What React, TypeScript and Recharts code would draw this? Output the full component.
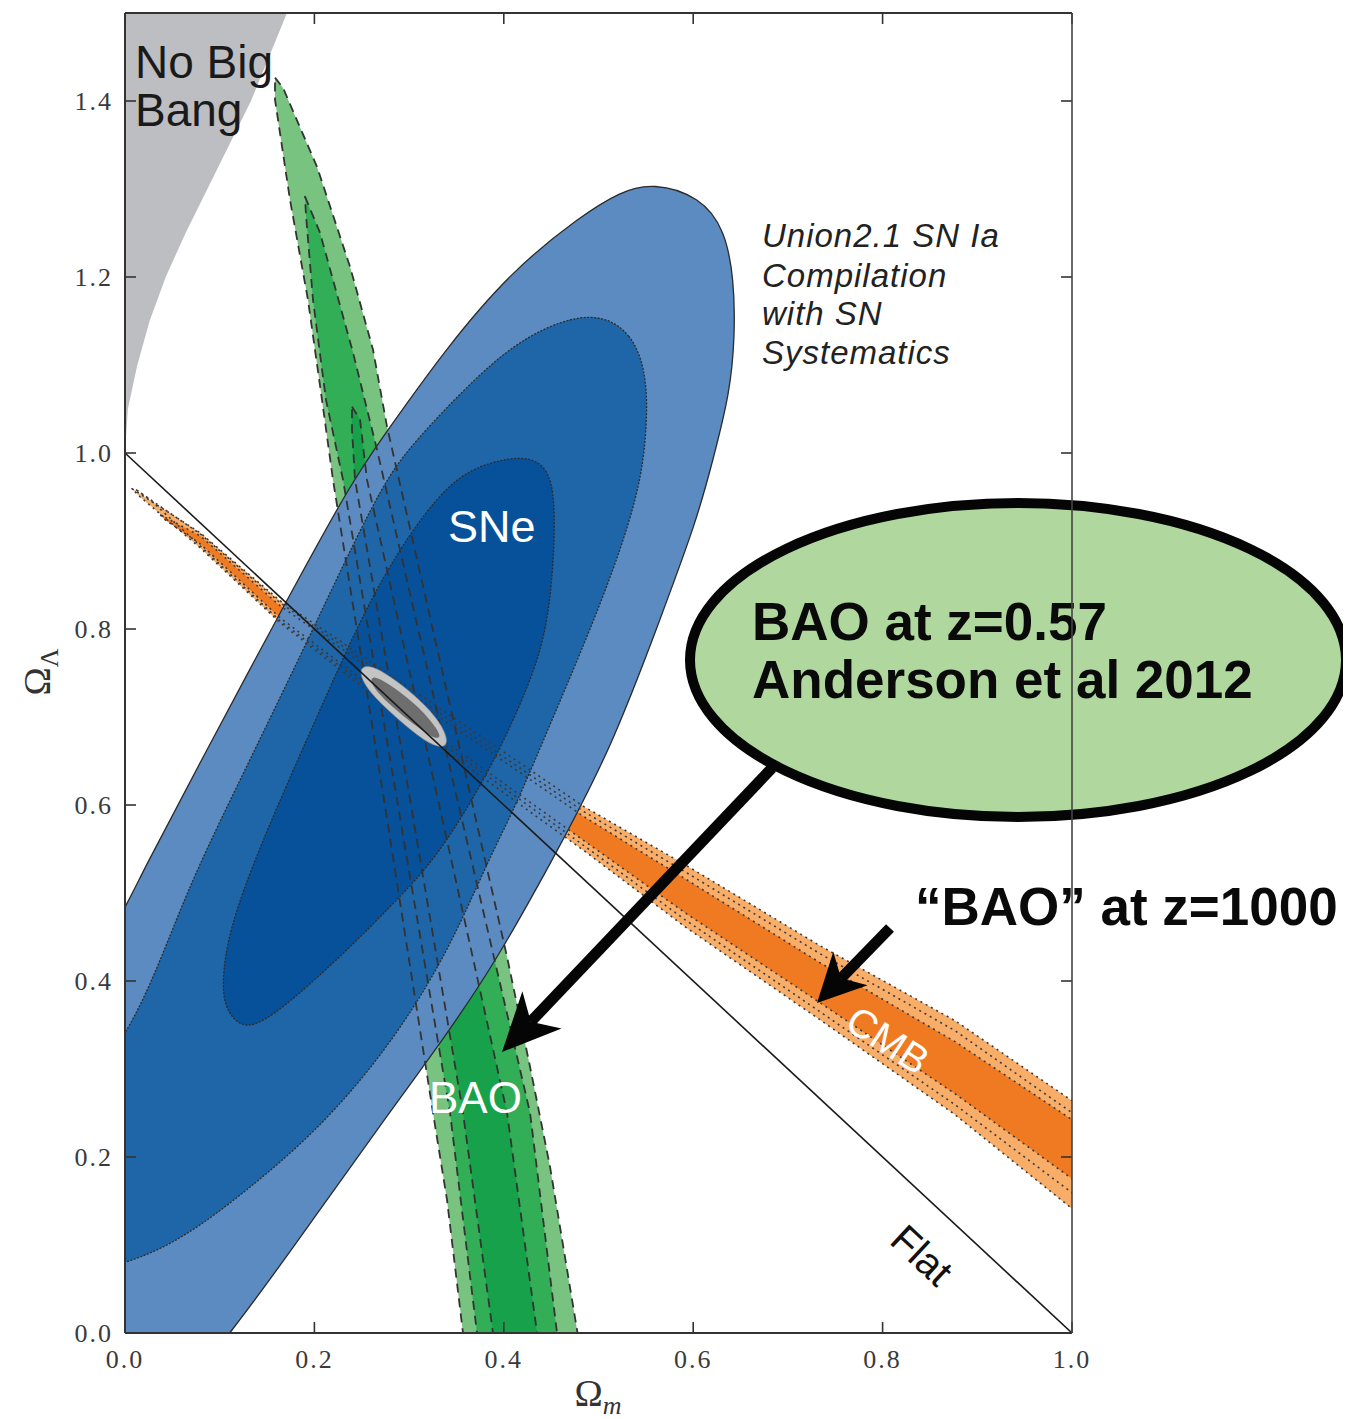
import { Scatter, ScatterChart, XAxis, YAxis } from 'recharts'

// Omega_m / Omega_Lambda plane: SN Ia, BAO and CMB confidence regions

type Pt = { x: number; y: number }
const pts = (rows: number[][]): Pt[] => rows.map(([x, y]) => ({ x, y }))

const X_TICKS = [0, 0.2, 0.4, 0.6, 0.8, 1.0]
const Y_TICKS = [0, 0.2, 0.4, 0.6, 0.8, 1.0, 1.2, 1.4]

const NO_BIG_BANG = [
  [0, 1.0], [0.003, 1.05], [0.013, 1.1], [0.026, 1.15], [0.043, 1.2], [0.064, 1.25], [0.087, 1.3],
  [0.11, 1.35], [0.133, 1.4], [0.152, 1.45], [0.171, 1.5], [0.19, 1.55], [-0.05, 1.55], [-0.05, 1.0],
]

const SNE_OUTER = [
  [0.5576, 1.3072], [0.6072, 1.2913], [0.6336, 1.2538], [0.6431, 1.1969], [0.6441, 1.1345],
  [0.6389, 1.0686], [0.6209, 0.9924], [0.604, 0.9242], [0.5649, 0.8106], [0.5132, 0.6629],
  [0.4488, 0.5322], [0.3907, 0.4208], [0.3411, 0.3413], [0.2714, 0.239], [0.2006, 0.1322],
  [0.113, 0.0], [0.0264, -0.11], [-0.0686, -0.167], [-0.1426, -0.098], [-0.1531, 0.095],
  [-0.0898, 0.311], [0, 0.4811], [0.0158, 0.5186], [0.0792, 0.6482], [0.1711, 0.8334],
  [0.2408, 0.9697], [0.2703, 1.0152], [0.34, 1.1209], [0.4097, 1.2084], [0.4805, 1.2686], [0.5227, 1.297],
]

const SNE_MID = [
  [0.4942, 1.1629], [0.5364, 1.1367], [0.5512, 1.0867], [0.5512, 1.0299], [0.5438, 0.9549],
  [0.5048, 0.8333], [0.4541, 0.7049], [0.4097, 0.5913], [0.3875, 0.547], [0.3379, 0.4242],
  [0.2714, 0.314], [0.2006, 0.2276], [0.1299, 0.1628], [0.0602, 0.106], [0, 0.0776],
  [-0.0581, 0.0663], [-0.1003, 0.106], [-0.1003, 0.1969], [-0.0581, 0.2651], [0, 0.3299],
  [0.0422, 0.4356], [0.0718, 0.5186], [0.132, 0.6515], [0.1985, 0.7992], [0.2693, 0.9617],
  [0.3041, 1.0117], [0.3749, 1.0913], [0.4277, 1.1367],
]

const SNE_INNER = [
  [0.4245, 0.997], [0.4467, 0.9833], [0.4541, 0.947], [0.453, 0.8788], [0.4456, 0.7992],
  [0.4277, 0.739], [0.396, 0.6629], [0.3611, 0.5947], [0.3221, 0.5311], [0.2788, 0.4833],
  [0.2355, 0.4356], [0.1658, 0.3674], [0.1267, 0.3413], [0.1056, 0.3674], [0.1024, 0.3981],
  [0.1088, 0.4549], [0.1404, 0.5492], [0.2027, 0.7004], [0.2482, 0.8106], [0.2904, 0.8936],
  [0.3432, 0.9697], [0.3854, 0.9902],
]

const BAO_OUTER = [
  [0.1584, 1.4265], [0.1668, 1.4151], [0.2027, 1.3254], [0.2376, 1.2117], [0.2619, 1.1174],
  [0.2767, 1.0299], [0.3442, 0.7083], [0.4034, 0.4276], [0.4277, 0.3026], [0.4488, 0.189],
  [0.4773, 0.0038], [0.4857, -0.053], [0.3643, -0.053], [0.3569, 0.0], [0.34, 0.1515],
  [0.3252, 0.2504], [0.2735, 0.6061], [0.2196, 0.9697], [0.208, 1.0606], [0.1932, 1.1742],
  [0.1742, 1.2879], [0.1584, 1.4015],
]

const BAO_MID = [
  [0.1901, 1.2913], [0.2059, 1.2504], [0.2408, 1.114], [0.2661, 1.0038], [0.3485, 0.6174],
  [0.4277, 0.2504], [0.4562, 0.0], [0.4625, -0.053], [0.3759, -0.053], [0.3717, 0.0],
  [0.3432, 0.2504], [0.2872, 0.6061], [0.2302, 0.9697], [0.2122, 1.0606], [0.1985, 1.1742], [0.1911, 1.2708],
]

const BAO_INNER = [
  [0.2397, 1.0527], [0.2482, 1.0379], [0.2555, 0.9697], [0.3305, 0.6061], [0.4034, 0.2504],
  [0.4351, 0.0], [0.4393, -0.053], [0.3928, -0.053], [0.3886, 0.0], [0.3569, 0.2504],
  [0.301, 0.6061], [0.2429, 0.9697], [0.2397, 1.0265],
]

const CMB_OUTER = [
  [0.0074, 0.9594], [0.0792, 0.9094], [0.1637, 0.8322], [0.3221, 0.7174], [0.4847, 0.5981],
  [0.5913, 0.5322], [0.7339, 0.4401], [0.8765, 0.3549], [1.0, 0.264], [1.0507, 0.2276],
  [1.0507, 0.1004], [1.0, 0.1413], [0.8765, 0.2481], [0.7339, 0.356], [0.5913, 0.4617],
  [0.4847, 0.5481], [0.3221, 0.6742], [0.1637, 0.8072], [0.0792, 0.8924], [0.0158, 0.9503],
]

const CMB_MID = [
  [0.0116, 0.9583], [0.0792, 0.9083], [0.1637, 0.8299], [0.3221, 0.7117], [0.4847, 0.5924],
  [0.5913, 0.5242], [0.7339, 0.431], [0.8765, 0.3435], [1.0, 0.2503], [1.0507, 0.2083],
  [1.0507, 0.1174], [1.0, 0.1594], [0.8765, 0.2594], [0.7339, 0.3651], [0.5913, 0.4697],
  [0.4847, 0.5538], [0.3221, 0.6799], [0.1637, 0.8094], [0.0792, 0.8947], [0.0264, 0.9469],
]

const CMB_INNER = [
  [0.037, 0.9299], [0.0792, 0.906], [0.1637, 0.8265], [0.3221, 0.7072], [0.4847, 0.5867],
  [0.5913, 0.5163], [0.7339, 0.4208], [0.8765, 0.3311], [1.0, 0.2424], [1.0507, 0.1992],
  [1.0507, 0.131], [1.0, 0.1753], [0.8765, 0.2719], [0.7339, 0.3753], [0.5913, 0.4776],
  [0.4847, 0.5594], [0.3221, 0.6844], [0.1637, 0.8128], [0.0792, 0.8969], [0.0422, 0.9242],
]

const JOINT_OUTER = [
  [0.2503, 0.7583], [0.264, 0.7572], [0.2851, 0.7424], [0.3115, 0.7197], [0.3326, 0.6947],
  [0.3411, 0.6742], [0.3379, 0.6651], [0.3242, 0.6674], [0.301, 0.6856], [0.2746, 0.7106],
  [0.2545, 0.7333], [0.2482, 0.7492],
]

const JOINT_INNER = [
  [0.2608, 0.7492], [0.2851, 0.7333], [0.3115, 0.7106], [0.3305, 0.6856], [0.3337, 0.6754],
  [0.3242, 0.6765], [0.301, 0.6947], [0.2756, 0.7174], [0.2587, 0.7379],
]

const FLAT = [
  [0, 1],
  [1, 0],
]

const W = 1343
const H = 1411
const PLOT = { left: 117, right: 1064, top: 5, bottom: 1325 }
const AXIS = '#333'
const SERIF = '"Liberation Serif", "Times New Roman", serif'
const SANS = '"Liberation Sans", Arial, sans-serif'

const hidden = () => <g />

type RegionStyle = {
  fill?: string
  stroke?: string
  strokeWidth?: number
  dash?: string
  curve?: 'basisClosed' | 'linearClosed' | 'linear'
}

function region(key: string, rows: number[][], s: RegionStyle) {
  return (
    <Scatter
      key={key}
      data={pts(rows)}
      isAnimationActive={false}
      zIndex={300}
      shape={hidden}
      lineJointType={s.curve ?? 'linearClosed'}
      line={{
        fill: s.fill ?? 'none',
        stroke: s.stroke ?? 'none',
        strokeWidth: s.strokeWidth ?? 1,
        strokeDasharray: s.dash,
        strokeLinejoin: 'round',
      }}
    />
  )
}

function XTick(props: any) {
  const { x, payload } = props
  return (
    <g>
      <line x1={x} x2={x} y1={PLOT.bottom} y2={PLOT.bottom - 11} stroke={AXIS} strokeWidth={1.6} />
      <line x1={x} x2={x} y1={PLOT.top} y2={PLOT.top + 11} stroke={AXIS} strokeWidth={1.6} />
      <text x={x} y={PLOT.bottom + 35} textAnchor="middle" fontFamily={SERIF} fontSize={26} letterSpacing={2} fill="#3a3a3a">
        {Number(payload.value).toFixed(1)}
      </text>
    </g>
  )
}

function YTick(props: any) {
  const { y, payload } = props
  return (
    <g>
      <line x1={PLOT.left} x2={PLOT.left + 11} y1={y} y2={y} stroke={AXIS} strokeWidth={1.6} />
      <line x1={PLOT.right} x2={PLOT.right - 11} y1={y} y2={y} stroke={AXIS} strokeWidth={1.6} />
      <text x={PLOT.left - 12} y={y + 9} textAnchor="end" fontFamily={SERIF} fontSize={26} letterSpacing={2} fill="#3a3a3a">
        {Number(payload.value).toFixed(1)}
      </text>
    </g>
  )
}

function Arrow({ x1, y1, x2, y2, head, half, width }: { x1: number; y1: number; x2: number; y2: number; head: number; half: number; width: number }) {
  const len = Math.hypot(x2 - x1, y2 - y1)
  const ux = (x2 - x1) / len
  const uy = (y2 - y1) / len
  const bx = x2 - ux * head
  const by = y2 - uy * head
  const nx = x2 - ux * head * 0.72
  const ny = y2 - uy * head * 0.72
  const p = `${x2},${y2} ${bx - uy * half},${by + ux * half} ${nx},${ny} ${bx + uy * half},${by - ux * half}`
  return (
    <g>
      <line x1={x1} y1={y1} x2={nx} y2={ny} stroke="#050505" strokeWidth={width} />
      <polygon points={p} fill="#050505" />
    </g>
  )
}

// text, callouts and the top/right frame sit above the plotted regions
function Overlay() {
  return (
    <svg width={W} height={H} style={{ position: 'absolute', left: 0, top: 0, pointerEvents: 'none' }}>
      <text fontFamily={SANS} fontSize={46} fill="#1a1a1a">
        <tspan x={127} y={70}>No Big</tspan>
        <tspan x={127} y={118}>Bang</tspan>
      </text>
      <text fontFamily={SANS} fontSize={33} fontStyle="italic" letterSpacing={1} fill="#222">
        <tspan x={754} y={239}>Union2.1 SN Ia</tspan>
        <tspan x={754} y={279}>Compilation</tspan>
        <tspan x={754} y={317}>with SN</tspan>
        <tspan x={754} y={356}>Systematics</tspan>
      </text>
      <text x={440} y={534} fontFamily={SANS} fontSize={45} fill="#fff">SNe</text>
      <text x={421} y={1105} fontFamily={SANS} fontSize={44} fill="#fff">BAO</text>
      <text x={880} y={1032} fontFamily={SANS} fontSize={40} fill="#fff" textAnchor="middle" dominantBaseline="central" transform="rotate(33 880 1032)">
        CMB
      </text>
      <text x={914} y={1247} fontFamily={SANS} fontSize={40} fill="#111" textAnchor="middle" dominantBaseline="central" transform="rotate(43 914 1247)">
        Flat
      </text>

      <text x={590} y={1398} fontFamily={SERIF} fontSize={38} fill="#333" textAnchor="middle">
        Ω<tspan dy={8} fontSize={26} fontStyle="italic">m</tspan>
      </text>
      <text x={42} y={664} fontFamily={SERIF} fontSize={38} fill="#333" textAnchor="middle" transform="rotate(-90 42 664)">
        Ω<tspan dy={8} fontSize={26}>Λ</tspan>
      </text>

      <ellipse cx={1010} cy={652} rx={328} ry={157} fill="#b0d89e" stroke="#050505" strokeWidth={10} />
      <text fontFamily={SANS} fontWeight="bold" fontSize={53} fill="#0a0a0a">
        <tspan x={744} y={632}>BAO at z=0.57</tspan>
        <tspan x={744} y={690}>Anderson et al 2012</tspan>
      </text>
      <Arrow x1={764} y1={760} x2={494} y2={1044} head={58} half={27} width={11} />
      <text x={907} y={917} fontFamily={SANS} fontWeight="bold" fontSize={53} fill="#0a0a0a">
        “BAO” at z=1000
      </text>
      <Arrow x1={882} y1={920} x2={809} y2={995} head={48} half={24} width={11} />

      <line x1={PLOT.left} x2={PLOT.right} y1={PLOT.top} y2={PLOT.top} stroke={AXIS} strokeWidth={2} />
      <line x1={PLOT.right} x2={PLOT.right} y1={PLOT.top} y2={PLOT.bottom} stroke="#444" strokeWidth={1.6} />
    </svg>
  )
}

export default function App() {
  return (
    <div style={{ position: 'relative', width: W, height: H, background: '#fff' }}>
      <ScatterChart width={W} height={H} margin={{ top: 5, right: 279, bottom: 26, left: 37 }}>
        {region('nbb', NO_BIG_BANG, { fill: '#bdbec1' })}

        {region('bao-1', BAO_OUTER, { fill: '#78c37f' })}
        {region('bao-2', BAO_MID, { fill: '#32ae57' })}
        {region('bao-3', BAO_INNER, { fill: '#17a14a' })}

        {region('cmb-1', CMB_OUTER, { fill: '#f8ae68' })}
        {region('cmb-3', CMB_INNER, { fill: '#f07a22' })}

        {region('sne-1', SNE_OUTER, { fill: '#5b8bc0', stroke: '#2b2b2b', strokeWidth: 1.3, curve: 'basisClosed' })}
        {region('sne-2', SNE_MID, { fill: '#1f66a8', stroke: '#2b2b2b', strokeWidth: 1.3, dash: '2 1.5', curve: 'basisClosed' })}
        {region('sne-3', SNE_INNER, { fill: '#07519a', stroke: '#2b2b2b', strokeWidth: 1.3, dash: '2 1.5', curve: 'basisClosed' })}

        {region('bao-1-l', BAO_OUTER, { stroke: '#333', strokeWidth: 1.8, dash: '9 6' })}
        {region('bao-2-l', BAO_MID, { stroke: '#333', strokeWidth: 1.8, dash: '9 6' })}
        {region('bao-3-l', BAO_INNER, { stroke: '#333', strokeWidth: 1.8, dash: '9 6' })}

        {region('cmb-1-l', CMB_OUTER, { stroke: '#3a3a3a', strokeWidth: 1.6, dash: '2 4' })}
        {region('cmb-2-l', CMB_MID, { stroke: '#3a3a3a', strokeWidth: 1.6, dash: '2 4' })}
        {region('cmb-3-l', CMB_INNER, { stroke: '#3a3a3a', strokeWidth: 1.6, dash: '2 4' })}

        {region('joint-1', JOINT_OUTER, { fill: '#c4c4c4', stroke: '#8a8a8a', strokeWidth: 0.6, curve: 'basisClosed' })}
        {region('joint-2', JOINT_INNER, { fill: '#6e6e6e', curve: 'basisClosed' })}

        {region('flat', FLAT, { stroke: '#1a1a1a', strokeWidth: 1.6, curve: 'linear' })}

        <XAxis
          dataKey="x"
          type="number"
          domain={[0, 1]}
          ticks={X_TICKS}
          interval={0}
          allowDataOverflow
          height={60}
          axisLine={{ stroke: AXIS, strokeWidth: 2 }}
          tickLine={false}
          tick={<XTick />}
        />
        <YAxis
          dataKey="y"
          type="number"
          domain={[0, 1.5]}
          ticks={Y_TICKS}
          interval={0}
          allowDataOverflow
          width={80}
          axisLine={{ stroke: AXIS, strokeWidth: 2 }}
          tickLine={false}
          tick={<YTick />}
        />
      </ScatterChart>
      <Overlay />
    </div>
  )
}
